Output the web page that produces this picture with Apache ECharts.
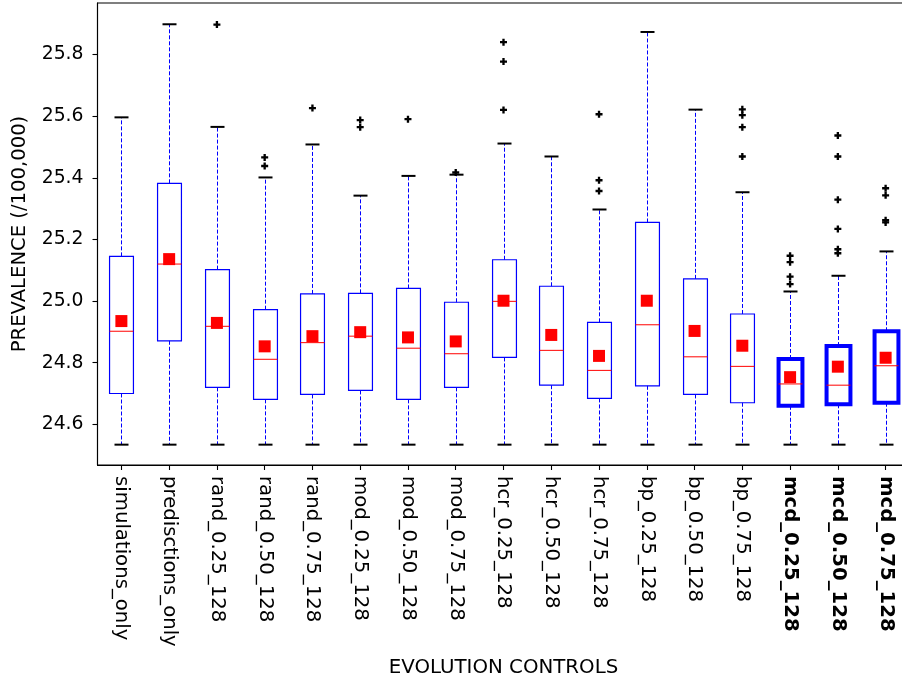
<!DOCTYPE html>
<html>
<head>
<meta charset="utf-8">
<style>
  html, body { margin: 0; padding: 0; background: #ffffff; }
  #chart { width: 902px; height: 683px; }
</style>
<script src="https://cdn.jsdelivr.net/npm/echarts@6/dist/echarts.min.js"></script>
</head>
<body>
<div id="chart"></div>
<script>
const categories = [
  'simulations_only', 'predisctions_only',
  'rand_0.25_128', 'rand_0.50_128', 'rand_0.75_128',
  'mod_0.25_128', 'mod_0.50_128', 'mod_0.75_128',
  'hcr_0.25_128', 'hcr_0.50_128', 'hcr_0.75_128',
  'bp_0.25_128', 'bp_0.50_128', 'bp_0.75_128',
  'mcd_0.25_128', 'mcd_0.50_128', 'mcd_0.75_128'
];
const highlighted = ['mcd_0.25_128', 'mcd_0.50_128', 'mcd_0.75_128'];

const lowerWhisker = [24.534, 24.534, 24.534, 24.534, 24.534, 24.534, 24.534, 24.534, 24.534, 24.534, 24.534, 24.534, 24.534, 24.534, 24.534, 24.534, 24.534];
const q1 = [24.700, 24.871, 24.720, 24.681, 24.697, 24.710, 24.681, 24.720, 24.817, 24.727, 24.684, 24.725, 24.697, 24.670, 24.660, 24.665, 24.670];
const medians = [24.902, 25.120, 24.918, 24.811, 24.865, 24.886, 24.847, 24.829, 24.999, 24.840, 24.775, 24.923, 24.819, 24.788, 24.731, 24.727, 24.790];
const q3 = [25.145, 25.382, 25.102, 24.972, 25.023, 25.025, 25.041, 24.996, 25.134, 25.048, 24.931, 25.255, 25.072, 24.958, 24.812, 24.854, 24.902];
const upperWhisker = [25.596, 25.898, 25.565, 25.401, 25.508, 25.342, 25.406, 25.410, 25.511, 25.469, 25.297, 25.873, 25.621, 25.353, 25.031, 25.082, 25.161];
const means = [24.935, 25.136, 24.929, 24.853, 24.886, 24.899, 24.882, 24.869, 25.001, 24.890, 24.822, 25.001, 24.903, 24.855, 24.753, 24.787, 24.816];
const outliers = [
  [], [], [25.897], [25.466, 25.438], [25.626], [25.587, 25.564], [25.590], [25.417],
  [25.840, 25.777, 25.620], [], [25.606, 25.392, 25.357], [], [],
  [25.622, 25.603, 25.564, 25.469],
  [25.147, 25.126, 25.079, 25.055],
  [25.537, 25.469, 25.329, 25.234, 25.168, 25.155],
  [25.366, 25.343, 25.262, 25.255]
];
const yTicks = [24.6, 24.8, 25.0, 25.2, 25.4, 25.6, 25.8];
const yMin = 24.468, yMax = 25.967;

const FONT = 'DejaVu Sans';

const boxData = categories.map((c, i) => [i, lowerWhisker[i], q1[i], medians[i], q3[i], upperWhisker[i], highlighted.includes(c) ? 1 : 0]);
const meanData = categories.map((c, i) => [i, means[i]]);
const outlierData = [];
outliers.forEach((arr, i) => arr.forEach(v => outlierData.push([i, v])));

function px(v) { return Math.round(v) + 0.5; }

function renderBox(params, api) {
  const i = api.value(0);
  const pLow = api.coord([i, api.value(1)]);
  const pQ1 = api.coord([i, api.value(2)]);
  const pMed = api.coord([i, api.value(3)]);
  const pQ3 = api.coord([i, api.value(4)]);
  const pHigh = api.coord([i, api.value(5)]);
  const thick = api.value(6) === 1;
  const band = api.size([1, 0])[0];
  const boxW = band * 0.5;
  const capW = 14;
  const x = px(pLow[0]);
  const blue = '#0000ff';
  const dash = [4, 2];
  return {
    type: 'group',
    children: [
      { type: 'line', shape: { x1: x, y1: pQ3[1], x2: x, y2: pHigh[1] }, style: { stroke: blue, lineWidth: 1, lineDash: dash } },
      { type: 'line', shape: { x1: x, y1: pQ1[1], x2: x, y2: pLow[1] }, style: { stroke: blue, lineWidth: 1, lineDash: dash } },
      { type: 'line', shape: { x1: x - capW / 2, y1: pHigh[1], x2: x + capW / 2, y2: pHigh[1] }, style: { stroke: '#000', lineWidth: 2 } },
      { type: 'line', shape: { x1: x - capW / 2, y1: pLow[1], x2: x + capW / 2, y2: pLow[1] }, style: { stroke: '#000', lineWidth: 2 } },
      { type: 'rect', shape: { x: x - boxW / 2, y: pQ3[1], width: boxW, height: pQ1[1] - pQ3[1] }, style: { fill: 'none', stroke: blue, lineWidth: thick ? 4 : 1.2 } },
      { type: 'line', shape: { x1: x - boxW / 2, y1: pMed[1], x2: x + boxW / 2, y2: pMed[1] }, style: { stroke: '#ff0000', lineWidth: 1 } }
    ]
  };
}

const chart = echarts.init(document.getElementById('chart'), null, { renderer: 'canvas' });
chart.setOption({
  animation: false,
  backgroundColor: '#ffffff',
  textStyle: { fontFamily: FONT },
  grid: {
    left: 97.5, width: 812, top: 3, bottom: 218,
    containLabel: false,
    outerBoundsMode: 'none',
    show: true, borderColor: '#000', borderWidth: 1.1, backgroundColor: 'transparent'
  },
  xAxis: {
    type: 'category',
    data: categories.map(c => highlighted.includes(c) ? { value: c, textStyle: { fontWeight: 'bold' } } : c),
    boundaryGap: true,
    axisLine: { show: true, lineStyle: { color: '#000', width: 1.1 } },
    axisTick: { show: true, alignWithLabel: true, length: 5, lineStyle: { color: '#000', width: 1.1 } },
    axisLabel: { rotate: -90, margin: 11, fontSize: 19.7, color: '#000', fontFamily: FONT, interval: 0, hideOverlap: false },
    splitLine: { show: false },
    name: 'EVOLUTION CONTROLS',
    nameLocation: 'middle',
    nameGap: 193,
    nameTextStyle: { fontSize: 19.8, color: '#000', fontFamily: FONT }
  },
  yAxis: {
    type: 'value',
    min: yMin, max: yMax,
    axisLine: { show: true, lineStyle: { color: '#000', width: 1.1 } },
    axisTick: { show: true, length: 5, customValues: yTicks, lineStyle: { color: '#000', width: 1.1 } },
    axisLabel: { customValues: yTicks, margin: 14, fontSize: 18.8, color: '#000', fontFamily: FONT, formatter: v => Number(v).toFixed(1) },
    splitLine: { show: false },
    name: 'PREVALENCE (/100,000)',
    nameLocation: 'middle',
    nameRotate: 90,
    nameGap: 68,
    nameTextStyle: { fontSize: 19.6, color: '#000', fontFamily: FONT }
  },
  series: [
    {
      type: 'custom',
      renderItem: renderBox,
      data: boxData,
      encode: { x: 0, y: [1, 2, 3, 4, 5] },
      z: 2,
      clip: false
    },
    {
      type: 'scatter',
      data: meanData,
      symbol: 'rect',
      symbolSize: 12,
      itemStyle: { color: '#ff0000', opacity: 1 },
      z: 4
    },
    {
      type: 'scatter',
      data: outlierData,
      symbol: 'path://M-1,-3H1V-1H3V1H1V3H-1V1H-3V-1H-1Z',
      symbolSize: 7,
      itemStyle: { color: '#000', opacity: 1 },
      z: 3
    }
  ]
});
</script>
</body>
</html>
